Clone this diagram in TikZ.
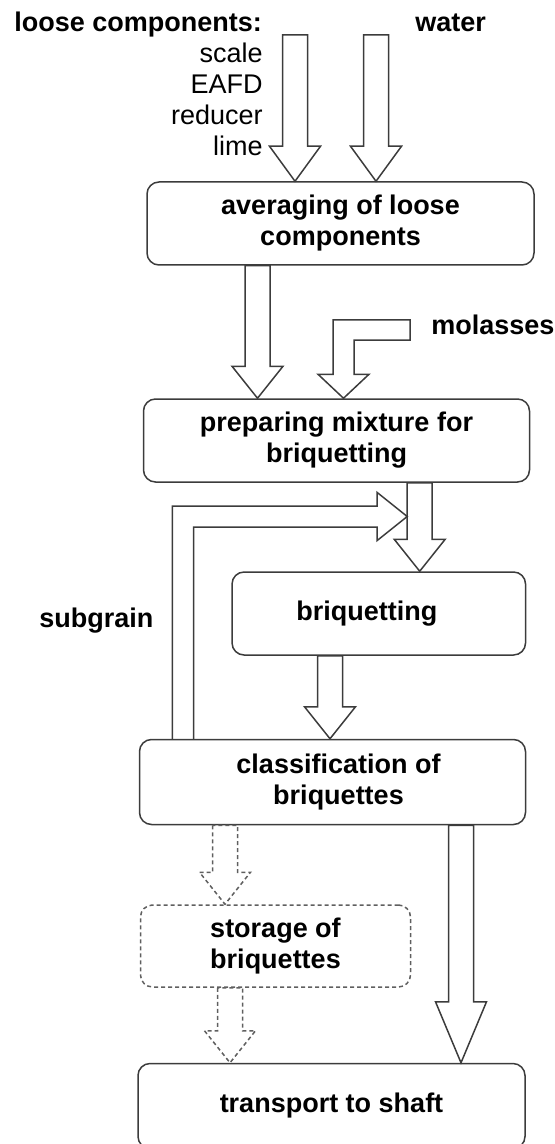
\documentclass[tikz,border=0pt]{standalone}
\usepackage{fontspec}
\setmainfont{Liberation Sans}
\usetikzlibrary{calc}

\definecolor{linegray}{RGB}{60,60,60}
\definecolor{dashgray}{RGB}{95,95,95}

\tikzset{
	shaftw/.store in=\arrsw, headw/.store in=\arrhw, headlen/.store in=\arrhl,
	shaftw=6.25pt, headw=12.75pt, headlen=16pt
}

% block arrow at x=#2 going down from (#3) to (#4)
\newcommand{\blockarrow}[4][]{%
	\draw[flow,#1] let \p1=(#3), \p2=(#4), \p3=(#2,0) in
		(\x3-\arrsw,\y1) -- (\x3-\arrsw,\y2+\arrhl) -- (\x3-\arrhw,\y2+\arrhl) -- (\x3,\y2)
		-- (\x3+\arrhw,\y2+\arrhl) -- (\x3+\arrsw,\y2+\arrhl) -- (\x3+\arrsw,\y1) -- cycle;}

\begin{document}
\begin{tikzpicture}[x=0.5pt, y=-0.5pt,
	txt/.style={inner sep=0pt, font=\fontsize{13.5}{15.5}\selectfont},
	stage/.style={draw=linegray, line width=0.75pt, rounded corners=6pt, align=center,
		font=\fontsize{13.5}{15.5}\selectfont\bfseries},
	flow/.style={draw=linegray, line width=0.75pt, line join=miter},
	dashed flow/.style={draw=dashgray, dash pattern=on 2pt off 1.5pt}]
	\useasboundingbox (0,0) rectangle (555,1144);
	\clip (0,0) rectangle (555,1144);

	% labels
	\node[txt, anchor=base west] (loose) at (14,32) {\bfseries loose components:};
	\node[txt, anchor=base west] (water) at (415,32) {\bfseries water};
	\node[txt, anchor=north east, align=right] (comps) at (263,43) {scale\\EAFD\\reducer\\lime};
	\node[txt, anchor=base west] (molasses) at (431,335) {\bfseries molasses};
	\node[txt, anchor=base west] (subgrain) at (39,627) {\bfseries subgrain};

	% stages
	\node[stage, minimum width=193.5pt, minimum height=41.5pt] (avg) at (340.5,223.5) {averaging of loose\\components};
	\node[stage, minimum width=193pt, minimum height=41.5pt] (prep) at (336.5,440.5) {preparing mixture for\\briquetting};
	\node[stage, minimum width=146.75pt, minimum height=41.5pt] (briq) at (378.8,613.5) {briquetting\hspace*{12pt}};
	\node[stage, minimum width=193pt, minimum height=42.5pt] (class) at (332.5,782) {\hspace*{6pt}classification of\\\hspace*{6pt}briquettes};
	\node[stage, dashed flow, minimum width=135pt, minimum height=41pt] (store) at (275.5,946) {storage of\\briquettes};
	\node[stage, minimum width=193.5pt, minimum height=42.5pt] (trans) at (331.5,1106) {transport to shaft};

	% flows
	\coordinate (scalein) at (295,35);
	\coordinate (waterin) at (376,35);
	\coordinate (molin) at (410,330);
	\coordinate (mixin) at (407.2,516.5);

	\blockarrow[headlen=17.5pt]{295}{scalein}{avg.north}
	\blockarrow[headlen=17.5pt]{376}{waterin}{avg.north}
	\blockarrow{257.5}{avg.south}{prep.north}
	\draw[flow, headlen=12pt] let \p1=(molin), \p2=(prep.north), \p3=(343.5,0) in
		(\x1,\y1+5pt) -- (\x3-5.25pt,\y1+5pt) -- (\x3-5.25pt,\y2+\arrhl) -- (\x3-\arrhw,\y2+\arrhl) -- (\x3,\y2)
		-- (\x3+\arrhw,\y2+\arrhl) -- (\x3+5.25pt,\y2+\arrhl) -- (\x3+5.25pt,\y1-5pt) -- (\x1,\y1-5pt) -- cycle;
	\blockarrow{419.7}{prep.south}{briq.north}
	\draw[flow, headlen=15pt, headw=12pt] let \p1=(class.north), \p2=(mixin), \p3=(183,0) in
		(\x3-5.3pt,\y1) -- (\x3-5.3pt,\y2+5.25pt) -- (\x2-\arrhl,\y2+5.25pt) -- (\x2-\arrhl,\y2+\arrhw) -- (\x2,\y2)
		-- (\x2-\arrhl,\y2-\arrhw) -- (\x2-\arrhl,\y2-5.25pt) -- (\x3+5.3pt,\y2-5.25pt) -- (\x3+5.3pt,\y1);
	\blockarrow{330}{briq.south}{class.north}
	\blockarrow[dashed flow]{225}{class.south}{store.north}
	\blockarrow[dashed flow]{230}{store.south}{trans.north}
	\blockarrow[headlen=30.5pt]{461}{class.south}{trans.north}
\end{tikzpicture}
\end{document}
